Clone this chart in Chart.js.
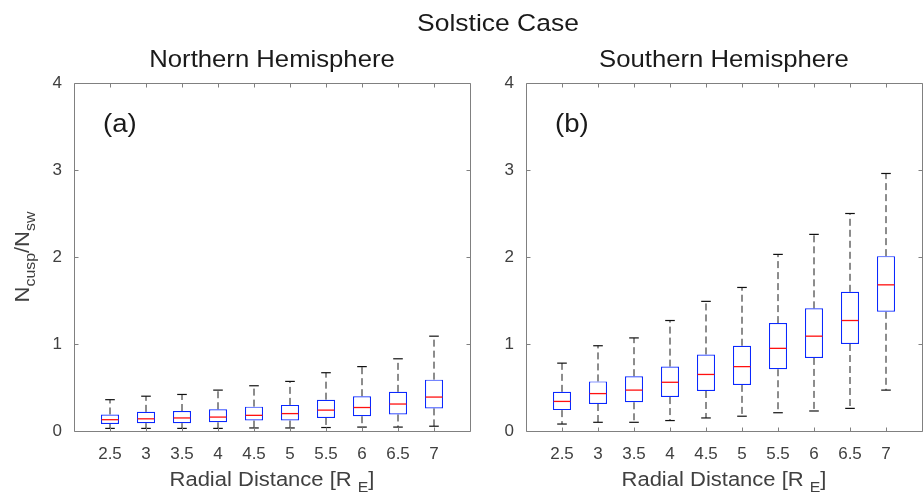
<!DOCTYPE html>
<html><head><meta charset="utf-8">
<script src="https://cdn.jsdelivr.net/npm/chart.js@4.4.1/dist/chart.umd.min.js"></script>
<style>
html,body{margin:0;padding:0;background:#fff;}
#wrap{position:relative;width:924px;height:497px;overflow:hidden;}
canvas{position:absolute;left:0;top:0;}
</style>
</head><body>
<div id="wrap"><canvas id="c1" width="924" height="497"></canvas><canvas id="c2" width="924" height="497"></canvas></div>
<script>
// ---- data ----
const categories = ['2.5','3','3.5','4','4.5','5','5.5','6','6.5','7'];
const yTicks = [0,1,2,3,4];

const northLow    = [0.03, 0.03, 0.03, 0.03, 0.035, 0.035, 0.04, 0.045, 0.045, 0.055];
const northQ1     = [0.08, 0.09, 0.09, 0.10, 0.12, 0.12, 0.15, 0.17, 0.19, 0.26];
const northMedian = [0.13, 0.14, 0.15, 0.16, 0.18, 0.20, 0.24, 0.27, 0.31, 0.39];
const northQ3     = [0.19, 0.22, 0.23, 0.25, 0.28, 0.30, 0.36, 0.40, 0.45, 0.59];
const northHigh   = [0.36, 0.40, 0.42, 0.47, 0.52, 0.57, 0.67, 0.74, 0.83, 1.09];

const southLow    = [0.08, 0.10, 0.10, 0.12, 0.15, 0.17, 0.21, 0.23, 0.26, 0.47];
const southQ1     = [0.24, 0.31, 0.33, 0.39, 0.46, 0.53, 0.71, 0.84, 1.00, 1.37];
const southMedian = [0.34, 0.43, 0.47, 0.56, 0.65, 0.74, 0.95, 1.09, 1.27, 1.68];
const southQ3     = [0.45, 0.57, 0.63, 0.74, 0.88, 0.98, 1.24, 1.41, 1.60, 2.01];
const southHigh   = [0.78, 0.98, 1.07, 1.27, 1.49, 1.65, 2.03, 2.26, 2.50, 2.96];

const mainTitle = 'Solstice Case';
const northTitle = 'Northern Hemisphere';
const southTitle = 'Southern Hemisphere';

// ---- styles ----
const FONT = '"Liberation Sans", Arial, Helvetica, sans-serif';
const AXIS = '#808080';
const TXT = '#404040';
const TITLE = '#1a1a1a';

function drawRich(ctx, parts, x, y, size, color, sx, align) {
  ctx.save();
  ctx.translate(x, y);
  ctx.scale(sx || 1, 1);
  let total = 0;
  const widths = parts.map(p => {
    ctx.font = (p[1] ? size * 0.72 : size) + 'px ' + FONT;
    const w = ctx.measureText(p[0]).width;
    total += w;
    return w;
  });
  let cx = align === 'left' ? 0 : -total / 2;
  ctx.fillStyle = color;
  ctx.textAlign = 'left';
  ctx.textBaseline = 'alphabetic';
  parts.forEach((p, i) => {
    ctx.font = (p[1] ? size * 0.72 : size) + 'px ' + FONT;
    ctx.fillText(p[0], cx, p[1] ? size * 0.3 : 0);
    cx += widths[i];
  });
  ctx.restore();
}

const framePlugin = {
  id: 'frame',
  afterDraw(chart, args, o) {
    const {ctx, chartArea: a, scales: {x, y}} = chart;
    ctx.save();
    ctx.strokeStyle = AXIS;
    ctx.lineWidth = 1;
    const L = Math.floor(a.left) + 0.5, R = Math.floor(a.right) + 0.5;
    const T = Math.floor(a.top) + 0.5, B = Math.floor(a.bottom) + 0.5;
    ctx.beginPath();
    ctx.rect(L, T, R - L, B - T);
    x.ticks.forEach(t => {
      const px = Math.round(x.getPixelForValue(t.value)) + 0.5;
      ctx.moveTo(px, B); ctx.lineTo(px, B - 4);
      ctx.moveTo(px, T); ctx.lineTo(px, T + 4);
    });
    y.ticks.forEach(t => {
      const py = Math.round(y.getPixelForValue(t.value)) + 0.5;
      ctx.moveTo(L, py); ctx.lineTo(L + 4, py);
      ctx.moveTo(R, py); ctx.lineTo(R - 4, py);
    });
    ctx.stroke();

    const cx = (a.left + a.right) / 2;
    drawRich(ctx, [[o.subtitle, false]], cx, 67, 24, TITLE, 1.07);
    drawRich(ctx, [[o.letter, false]], a.left + 29, 132, 26, TITLE, 1.06, 'left');
    drawRich(ctx, [['Radial Distance [R ', false], ['E', true], [']', false]], cx, 486, 20, TXT, 1.1);
    if (o.yTitle) {
      ctx.save();
      ctx.translate(29, (a.top + a.bottom) / 2);
      ctx.rotate(-Math.PI / 2);
      drawRich(ctx, [['N', false], ['cusp', true], ['/N', false], ['sw', true]], 0, 0, 21, TXT, 1.05);
      ctx.restore();
    }
    if (o.main) {
      drawRich(ctx, [[mainTitle, false]], 498, 31, 24.5, TITLE, 1.08);
    }
    ctx.restore();
  }
};

function makePanel(id, lo, q1, med, q3, hi, padL, padR, subtitle, letter, yTitle, main) {
  const pos = categories.map((c, i) => i + 1);
  const whiskers = [];
  pos.forEach((p, i) => {
    whiskers.push({x: p, y: q3[i]}, {x: p, y: hi[i]}, {x: p, y: null});
    whiskers.push({x: p, y: q1[i]}, {x: p, y: lo[i]}, {x: p, y: null});
  });
  const caps = [];
  pos.forEach((p, i) => { caps.push({x: p, y: hi[i]}, {x: p, y: lo[i]}); });

  return new Chart(document.getElementById(id), {
    type: 'bar',
    data: {
      datasets: [
        {
          type: 'line', data: whiskers, borderColor: '#1a1a1a', borderWidth: 1,
          borderDash: [7, 4], pointRadius: 0, spanGaps: false, fill: false, order: 3
        },
        {
          type: 'bar', data: pos.map((p, i) => ({x: p, y: [q1[i], q3[i]]})),
          backgroundColor: '#ffffff', borderColor: '#0a28ff', borderWidth: 1.2,
          borderSkipped: false, barPercentage: 0.5, categoryPercentage: 1, order: 2
        },
        {
          type: 'scatter', data: pos.map((p, i) => ({x: p, y: med[i]})),
          pointStyle: 'line', pointRadius: 8.4, pointHoverRadius: 8.4,
          borderColor: '#ff1010', borderWidth: 1.3, order: 1
        },
        {
          type: 'scatter', data: caps, pointStyle: 'line', pointRadius: 4.8, pointHoverRadius: 4.8,
          borderColor: '#111111', borderWidth: 1.2, order: 1
        }
      ]
    },
    options: {
      responsive: false, animation: false, events: [],
      layout: {autoPadding: false, padding: {left: padL, right: padR, top: 83, bottom: 26}},
      plugins: {legend: {display: false}, tooltip: {enabled: false},
        frame: {subtitle, letter, yTitle, main}},
      scales: {
        x: {
          type: 'linear', min: 0, max: 11, offset: false,
          afterBuildTicks: s => { s.ticks = pos.map(v => ({value: v})); },
          afterFit: s => { s.height = 40; s.paddingLeft = 0; s.paddingRight = 0; },
          grid: {display: false, drawTicks: false}, border: {display: false},
          ticks: {callback: v => categories[v - 1], color: TXT, padding: 13, maxRotation: 0,
            autoSkip: false, font: {family: FONT, size: 17}}
        },
        y: {
          min: 0, max: 4,
          afterBuildTicks: s => { s.ticks = yTicks.map(v => ({value: v})); },
          afterFit: s => { s.width = 30; s.paddingTop = 0; s.paddingBottom = 0; },
          grid: {display: false, drawTicks: false}, border: {display: false},
          ticks: {color: TXT, padding: 12, font: {family: FONT, size: 17}}
        }
      }
    },
    plugins: [framePlugin]
  });
}

makePanel('c1', northLow, northQ1, northMedian, northQ3, northHigh, 44, 454, northTitle, '(a)', true, true);
makePanel('c2', southLow, southQ1, southMedian, southQ3, southHigh, 496, 2, southTitle, '(b)', false, false);
</script>
</body></html>
